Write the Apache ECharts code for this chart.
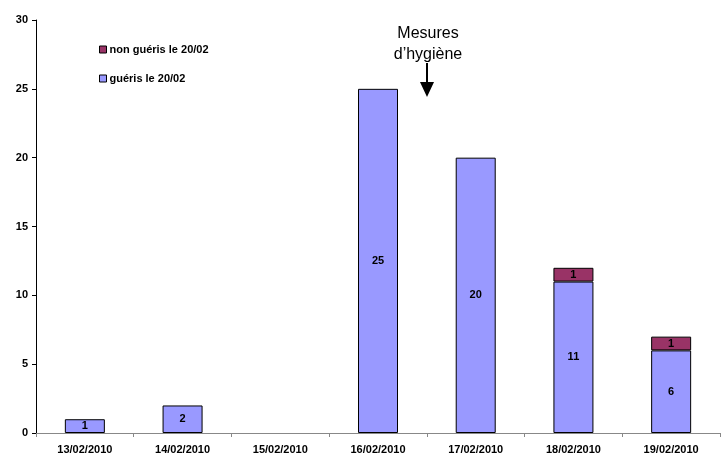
<!DOCTYPE html>
<html><head><meta charset="utf-8">
<script src="https://cdn.jsdelivr.net/npm/echarts@6/dist/echarts.min.js"></script>
<style>html,body{margin:0;padding:0;background:#fff}#c{width:728px;height:457px}</style>
</head><body><div id="c"></div>
<script>
const categories = ["13/02/2010","14/02/2010","15/02/2010","16/02/2010","17/02/2010","18/02/2010","19/02/2010"];
const gueris = [1,2,0,25,20,11,6];
const nonGueris = [0,0,0,0,0,1,1];
const yTicks = [0,5,10,15,20,25,30];
const seriesNames = ["non guéris le 20/02","guéris le 20/02"];
const annotation = ["Mesures","d\u2019hygiène"];

const noZero = arr => arr.map(v => v === 0 ? null : v);
const chart = echarts.init(document.getElementById('c'));
const lbl = {show:true, position:'inside', color:'#000', fontWeight:'bold', fontSize:11, fontFamily:'Liberation Sans, Arial', formatter:p=>p.value>0?p.value:''};
chart.setOption({
  animation:false,
  grid:{left:36,right:8,top:20,bottom:24,containLabel:false},
  legend:{
    orient:'vertical', left:94, top:39, itemGap:18, itemWidth:7, itemHeight:7,
    icon:'rect',
    data:[{name:seriesNames[0],itemStyle:{borderColor:'#000',borderWidth:1}},{name:seriesNames[1],itemStyle:{borderColor:'#000',borderWidth:1}}],
    textStyle:{fontWeight:'bold',fontSize:11,fontFamily:'Liberation Sans, Arial',color:'#000',padding:[0,0,0,-2]}
  },
  xAxis:{
    type:'category', data:categories,
    axisLine:{lineStyle:{color:'#888',width:1}},
    axisTick:{show:true,alignWithLabel:false,length:4,lineStyle:{color:'#888'}},
    axisLabel:{color:'#000',fontWeight:'bold',fontSize:11,fontFamily:'Liberation Sans, Arial',margin:11,interval:0}
  },
  yAxis:{
    type:'value', min:0, max:30, interval:5,
    axisLine:{show:true,lineStyle:{color:'#000',width:1}},
    axisTick:{show:true,inside:false,length:4,lineStyle:{color:'#000'}},
    splitLine:{show:false},
    axisLabel:{color:'#000',fontWeight:'bold',fontSize:11,fontFamily:'Liberation Sans, Arial',margin:8,
      formatter:v=>yTicks.includes(v)?String(v):''}
  },
  series:[
    {name:seriesNames[1],type:'bar',stack:'s',data:noZero(gueris),barWidth:40,
      itemStyle:{color:'#9999FF',borderColor:'#000',borderWidth:1},label:lbl},
    {name:seriesNames[0],type:'bar',stack:'s',data:noZero(nonGueris),barWidth:40,
      itemStyle:{color:'#993366',borderColor:'#000',borderWidth:1},label:lbl}
  ],
  graphic:[
    {type:'text',x:428,y:23,style:{text:annotation[0]+'\n'+annotation[1],fontSize:16,fontFamily:'Liberation Sans, Arial',fill:'#000',align:'center',lineHeight:21},z:10},
    {type:'line',shape:{x1:427,y1:63,x2:427,y2:84},style:{stroke:'#000',lineWidth:2}},
    {type:'polygon',shape:{points:[[420,82],[434,82],[427,97]]},style:{fill:'#000'}}
  ]
});
</script></body></html>
